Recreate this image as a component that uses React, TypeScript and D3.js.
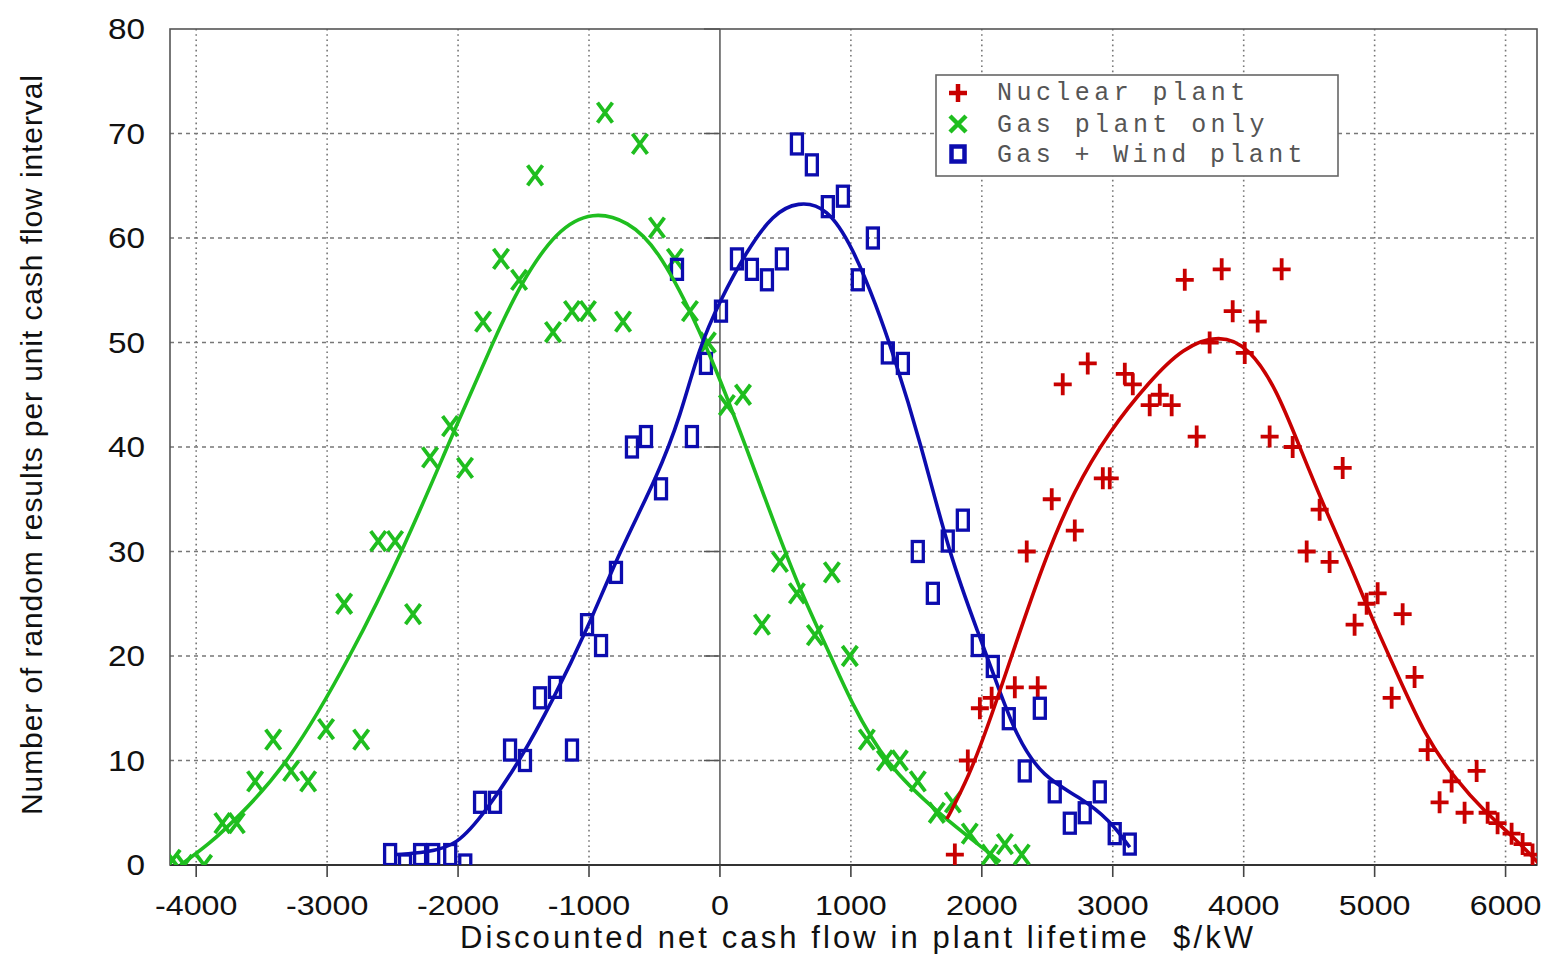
import React, { useEffect, useRef } from "react";
import * as d3 from "d3";

// axis ticks
const xTicks = [-4000, -3000, -2000, -1000, 0, 1000, 2000, 3000, 4000, 5000, 6000];
const yTicks = [0, 10, 20, 30, 40, 50, 60, 70, 80];

const legendLabels = ["Nuclear plant", "Gas plant only", "Gas + Wind plant"];

// scatter points [cash flow, count]
const nuclearPoints = [
  [1794, 1], [1893, 10], [1985, 15], [2075, 16], [2252, 17], [2427, 17], [2343, 30], [2534, 35],
  [2618, 46], [2710, 32], [2809, 48], [2924, 37], [2977, 37], [3092, 47], [3153, 46], [3282, 44],
  [3359, 45], [3450, 44], [3550, 56], [3641, 41], [3740, 50], [3832, 57], [3916, 53], [4008, 49],
  [4107, 52], [4198, 41], [4290, 57], [4374, 40], [4481, 30], [4580, 34], [4656, 29], [4756, 38],
  [4847, 23], [4939, 25], [5023, 26], [5130, 16], [5214, 24], [5305, 18], [5405, 11], [5496, 6],
  [5588, 8], [5687, 5], [5779, 9], [5863, 5], [5939, 4], [6046, 3], [6130, 2], [6206, 1],
];

const gasPoints = [
  [-4180, 0.5], [-4090, 0], [-3940, 0], [-3800, 4], [-3690, 4], [-3550, 8], [-3412, 12], [-3275, 9],
  [-3145, 8], [-3008, 13], [-2870, 25], [-2740, 12], [-2610, 31], [-2481, 31], [-2344, 24], [-2214, 39],
  [-2061, 42], [-1947, 38], [-1809, 52], [-1672, 58], [-1534, 56], [-1412, 66], [-1275, 51], [-1130, 53],
  [-1008, 53], [-878, 72], [-740, 52], [-611, 69], [-481, 61], [-344, 58], [-229, 53], [-92, 50],
  [53, 44], [176, 45], [321, 23], [458, 29], [588, 26], [725, 22], [855, 28], [992, 20],
  [1122, 12], [1260, 10], [1374, 10], [1511, 8], [1656, 5], [1779, 6], [1908, 3], [2061, 1],
  [2176, 2], [2305, 1],
];

const windPoints = [
  [-2519, 1], [-2405, 0], [-2290, 1], [-2190, 1], [-2060, 1], [-1945, 0], [-1832, 6], [-1718, 6],
  [-1603, 11], [-1489, 10], [-1374, 16], [-1260, 17], [-1130, 11], [-1015, 23], [-908, 21], [-794, 28],
  [-672, 40], [-565, 41], [-450, 36], [-328, 57], [-214, 41], [-107, 48], [8, 53], [130, 58],
  [244, 57], [359, 56], [473, 58], [588, 69], [702, 67], [824, 63], [939, 64], [1053, 56],
  [1168, 60], [1282, 49], [1397, 48], [1511, 30], [1626, 26], [1740, 31], [1855, 33], [1969, 21],
  [2084, 19], [2206, 14], [2328, 9], [2443, 15], [2557, 7], [2672, 4], [2786, 5], [2901, 7],
  [3015, 3], [3130, 2],
];

// fitted curves
const nuclearFit = [
  [1733, 4.4], [1900, 8.4], [2061, 13.8], [2214, 19.5], [2466, 28.8], [2700, 35.8], [2977, 41.6],
  [3282, 46.3], [3534, 49.5], [3817, 50.8], [4046, 49.5], [4252, 45.5], [4427, 40], [4634, 33.7],
  [4832, 28.2], [4962, 24.1], [5137, 19.3], [5397, 12], [5626, 8.1], [5824, 5.3], [6084, 2.4],
  [6250, 0.2],
];

const gasFit = [
  [-4120, 0], [-3900, 2], [-3687, 4.5], [-3305, 9.5], [-2824, 19.8], [-2389, 31], [-2084, 40],
  [-1700, 51], [-1527, 55.5], [-1250, 60.8], [-969, 62.6], [-700, 61.6], [-481, 59.1], [-191, 52.2],
  [0, 46.5], [200, 40], [405, 33], [620, 26], [847, 20], [992, 15.8], [1267, 9.6], [1672, 4.9],
  [2053, 1.2], [2140, 0.3],
];

const windFit = [
  [-2470, 1], [-2250, 1.2], [-2008, 1.8], [-1779, 5.3], [-1527, 10], [-1275, 15.8], [-1015, 22.5],
  [-763, 30.1], [-481, 37.1], [-300, 43], [-160, 49.5], [0, 54], [206, 58.8], [405, 62.3],
  [595, 63.5], [817, 63], [1015, 59.1], [1198, 53.4], [1321, 49], [1527, 40.7], [1756, 29.5],
  [1985, 21.8], [2114, 17.4], [2267, 12.2], [2466, 8.4], [2748, 6.5], [2977, 4.3], [3130, 1.7],
];

const RED = "#c80000";
const GREEN = "#1fbe1f";
const BLUE = "#0c0cae";

export default function App() {
  const ref = useRef<SVGSVGElement>(null);

  useEffect(() => {
    const svg = d3.select(ref.current);
    svg.selectAll("*").remove();

    const left = 170, right = 1537, top = 29, bottom = 865;
    const x = d3.scaleLinear().domain([-4200, 6240]).range([left, right]);
    const y = d3.scaleLinear().domain([0, 80]).range([bottom, top]);

    svg.append("rect").attr("width", 1550).attr("height", 954).attr("fill", "#fff");

    svg.append("defs").append("clipPath").attr("id", "plotclip")
      .append("rect").attr("x", left).attr("y", top).attr("width", right - left).attr("height", bottom - top);

    // grid
    const grid = svg.append("g");
    xTicks.filter((d) => d !== 0).forEach((d) => {
      grid.append("line").attr("x1", x(d)).attr("x2", x(d)).attr("y1", top).attr("y2", bottom)
        .attr("stroke", "#777").attr("stroke-width", 1.6).attr("stroke-dasharray", "1.6,3.6");
    });
    yTicks.filter((d) => d !== 0 && d !== 80).forEach((d) => {
      grid.append("line").attr("x1", left).attr("x2", right).attr("y1", y(d)).attr("y2", y(d))
        .attr("stroke", "#777").attr("stroke-width", 1.6).attr("stroke-dasharray", "4,4");
    });

    // zero axis with its small ticks
    grid.append("line").attr("x1", x(0)).attr("x2", x(0)).attr("y1", top).attr("y2", bottom)
      .attr("stroke", "#555").attr("stroke-width", 1.5);
    yTicks.forEach((d) => {
      grid.append("line").attr("x1", x(0) - 16).attr("x2", x(0)).attr("y1", y(d)).attr("y2", y(d))
        .attr("stroke", "#555").attr("stroke-width", 1.5);
    });

    // frame
    svg.append("rect").attr("x", left).attr("y", top).attr("width", right - left).attr("height", bottom - top)
      .attr("fill", "none").attr("stroke", "#555").attr("stroke-width", 1.6);
    svg.append("line").attr("x1", left).attr("x2", right).attr("y1", bottom).attr("y2", bottom)
      .attr("stroke", "#333").attr("stroke-width", 2);

    // x ticks + labels
    xTicks.forEach((d) => {
      svg.append("line").attr("x1", x(d)).attr("x2", x(d)).attr("y1", bottom).attr("y2", bottom + 12)
        .attr("stroke", "#444").attr("stroke-width", 1.6);
      svg.append("g").attr("transform", `translate(${x(d)},915) scale(1.15,1)`)
        .append("text").attr("text-anchor", "middle")
        .attr("font-family", "Liberation Sans, Arial, sans-serif").attr("font-size", 28).attr("fill", "#111")
        .text(String(d));
    });

    // y labels
    yTicks.forEach((d) => {
      svg.append("g").attr("transform", `translate(145,${y(d) + 10}) scale(1.15,1)`)
        .append("text").attr("text-anchor", "end")
        .attr("font-family", "Liberation Sans, Arial, sans-serif").attr("font-size", 29).attr("fill", "#111")
        .text(String(d));
    });

    // axis titles
    svg.append("text").attr("x", 460).attr("y", 948)
      .attr("font-family", "Liberation Sans, Arial, sans-serif").attr("font-size", 31).attr("fill", "#111")
      .attr("textLength", 793).attr("lengthAdjust", "spacing").style("white-space", "pre")
      .text("Discounted net cash flow in plant lifetime  $/kW");
    svg.append("text").attr("transform", "translate(42,445) rotate(-90)").attr("x", -370).attr("y", 0)
      .attr("font-family", "Liberation Sans, Arial, sans-serif").attr("font-size", 30).attr("fill", "#111")
      .attr("textLength", 740).attr("lengthAdjust", "spacing")
      .text("Number of random results per unit cash flow interval");

    // markers
    const plot = svg.append("g").attr("clip-path", "url(#plotclip)");
    const plus = (g: any, cx: number, cy: number, w: number, h: number, sw: number) => {
      g.append("path").attr("d", `M${cx - w / 2},${cy}H${cx + w / 2}M${cx},${cy - h / 2}V${cy + h / 2}`)
        .attr("stroke", RED).attr("stroke-width", sw).attr("fill", "none");
    };
    const cross = (g: any, cx: number, cy: number, w: number, h: number, sw: number) => {
      g.append("path").attr("d", `M${cx - w / 2},${cy - h / 2}L${cx + w / 2},${cy + h / 2}M${cx - w / 2},${cy + h / 2}L${cx + w / 2},${cy - h / 2}`)
        .attr("stroke", GREEN).attr("stroke-width", sw).attr("fill", "none");
    };
    const box = (g: any, cx: number, cy: number, w: number, h: number, sw: number) => {
      g.append("rect").attr("x", cx - w / 2).attr("y", cy - h / 2).attr("width", w).attr("height", h)
        .attr("stroke", BLUE).attr("stroke-width", sw).attr("fill", "none");
    };

    nuclearPoints.forEach(([a, b]) => plus(plot, x(a), y(b), 18, 22, 3.8));
    gasPoints.forEach(([a, b]) => cross(plot, x(a), y(b), 15, 20, 3.8));
    windPoints.forEach(([a, b]) => box(plot, x(a), y(b), 11, 20, 3.3));

    // fitted lines (B-spline smooths the read-off points)
    const line = d3.line<number[]>().x((d) => x(d[0])).y((d) => y(d[1])).curve(d3.curveBasis);
    [[gasFit, GREEN], [windFit, BLUE], [nuclearFit, RED]].forEach(([data, color]) => {
      plot.append("path").attr("d", line(data as number[][])).attr("fill", "none")
        .attr("stroke", color as string).attr("stroke-width", 3.6);
    });

    // legend
    const lg = svg.append("g");
    lg.append("rect").attr("x", 936).attr("y", 75).attr("width", 402).attr("height", 101)
      .attr("fill", "#fff").attr("stroke", "#666").attr("stroke-width", 1.6);
    plus(lg, 958, 93, 18, 18, 4.5);
    cross(lg, 958, 124, 16, 16, 4.5);
    box(lg, 958, 154, 13, 15, 4.5);
    const rows = [100, 132, 162];
    legendLabels.forEach((t, i) => {
      lg.append("text").attr("x", 997).attr("y", rows[i])
        .attr("font-family", "Liberation Mono, monospace").attr("font-size", 25).attr("fill", "#555")
        .attr("textLength", t.length * 19.1).attr("lengthAdjust", "spacing")
        .text(t);
    });
  }, []);

  return (
    <svg ref={ref} width={1550} height={954} style={{ position: "absolute", left: 0, top: 0 }} />
  );
}
